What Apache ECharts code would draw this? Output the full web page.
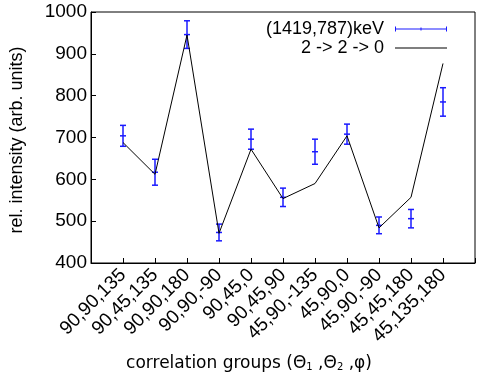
<!DOCTYPE html>
<html>
<head>
<meta charset="utf-8">
<script src="https://cdn.jsdelivr.net/npm/echarts@6/dist/echarts.min.js"></script>
<style>
  html, body { margin: 0; padding: 0; background: #fff; }
  #chart { width: 483px; height: 380px; }
</style>
</head>
<body>
<div id="chart"></div>
<script>
const categories = ['90,90,135', '90,45,135', '90,90,180', '90,90,-90', '90,45,0', '90,45,90',
  '45,90,-135', '45,90,0', '45,90,-90', '45,45,180', '45,135,180']
// measured intensities and their errors
const measured = [704, 617, 946, 473, 696, 557, 666, 708, 490, 506, 785]
const errors = [25, 31, 33, 20, 24, 22, 30, 24, 20, 22, 34]
// calculated 2 -> 2 -> 0 cascade
const theory = [688, 612, 945, 471, 672, 554, 590, 704, 484, 557, 877]
const yTicks = [400, 500, 600, 700, 800, 900, 1000]

const font = 'Liberation Sans'
const blue = '#1a1aff'

const chart = echarts.init(document.getElementById('chart'))

const errData = measured.map((v, i) => [i + 1, v, v - errors[i], v + errors[i]])

const option = {
  animation: false,
  backgroundColor: '#fff',
  grid: {
    left: 91, right: 8, top: 12, bottom: 117,
    show: true, borderColor: '#000', borderWidth: 1
  },
  legend: [
    {
      data: [{ name: '(1419,787)keV', icon: 'path://M0,0h1v5h-1zM0,2h52v1h-52zM51,0h1v5h-1zM25.5,1h1v3h-1z' }],
      right: 31, top: 15, align: 'right', itemWidth: 52, itemHeight: 5,
      textStyle: { fontFamily: font, fontSize: 18, color: '#000', padding: [0, 6, 0, 0] }
    },
    {
      data: [{ name: '2 -> 2 -> 0', icon: 'rect' }],
      right: 31, top: 34, align: 'right', itemWidth: 52, itemHeight: 1,
      itemStyle: { color: '#000' },
      textStyle: { fontFamily: font, fontSize: 18, color: '#000', padding: [0, 6, 0, 0] }
    }
  ],
  xAxis: {
    type: 'value', min: 0, max: 12, interval: 1,
    axisLine: { show: true, lineStyle: { color: '#000', width: 1 } },
    axisTick: { show: true, inside: true, length: 5, lineStyle: { color: '#000' } },
    splitLine: { show: false },
    axisLabel: {
      rotate: 45, margin: 9,
      fontFamily: font, fontSize: 19, color: '#000',
      formatter: v => categories[v - 1] || ''
    }
  },
  yAxis: {
    type: 'value', min: yTicks[0], max: yTicks[yTicks.length - 1], interval: 100,
    axisLine: { show: true, lineStyle: { color: '#000', width: 1 } },
    axisTick: { show: true, inside: true, length: 5, lineStyle: { color: '#000' } },
    splitLine: { show: false },
    axisLabel: { margin: 4, fontFamily: font, fontSize: 19, color: '#000', formatter: v => String(v) }
  },
  graphic: [
    {
      type: 'text', rotation: Math.PI / 2,
      x: 17, y: 140,
      style: {
        text: 'rel. intensity (arb. units)', fontFamily: font, fontSize: 18,
        fill: '#000', align: 'center', verticalAlign: 'middle'
      }
    },
    {
      type: 'text', x: 249, y: 364,
      style: {
        text: '{a|correlation groups (Θ}{s|1}{a| ,Θ}{s|2}{a| ,φ)}',
        align: 'center', verticalAlign: 'middle',
        rich: {
          a: { fontFamily: 'DejaVu Sans', fontSize: 17, fill: '#000' },
          s: { fontFamily: 'DejaVu Sans', fontSize: 10, fill: '#000', verticalAlign: 'bottom' }
        }
      }
    }
  ],
  series: [
    {
      name: '(1419,787)keV',
      type: 'custom',
      itemStyle: { color: blue },
      data: errData,
      renderItem: (params, api) => {
        const x = api.value(0)
        const c = api.coord([x, api.value(1)])
        const lo = api.coord([x, api.value(2)])
        const hi = api.coord([x, api.value(3)])
        const w = 3
        const st = { stroke: blue, lineWidth: 1.5 }
        return {
          type: 'group',
          children: [
            { type: 'line', shape: { x1: c[0], y1: lo[1], x2: c[0], y2: hi[1] }, style: st },
            { type: 'line', shape: { x1: c[0] - w, y1: lo[1], x2: c[0] + w, y2: lo[1] }, style: st },
            { type: 'line', shape: { x1: c[0] - w, y1: hi[1], x2: c[0] + w, y2: hi[1] }, style: st },
            { type: 'line', shape: { x1: c[0] - w, y1: c[1], x2: c[0] + w, y2: c[1] }, style: st }
          ]
        }
      }
    },
    {
      name: '2 -> 2 -> 0',
      type: 'line',
      symbol: 'none',
      lineStyle: { color: '#000', width: 1 },
      itemStyle: { color: '#000' },
      data: theory.map((v, i) => [i + 1, v])
    }
  ]
}

chart.setOption(option)
</script>
</body>
</html>
